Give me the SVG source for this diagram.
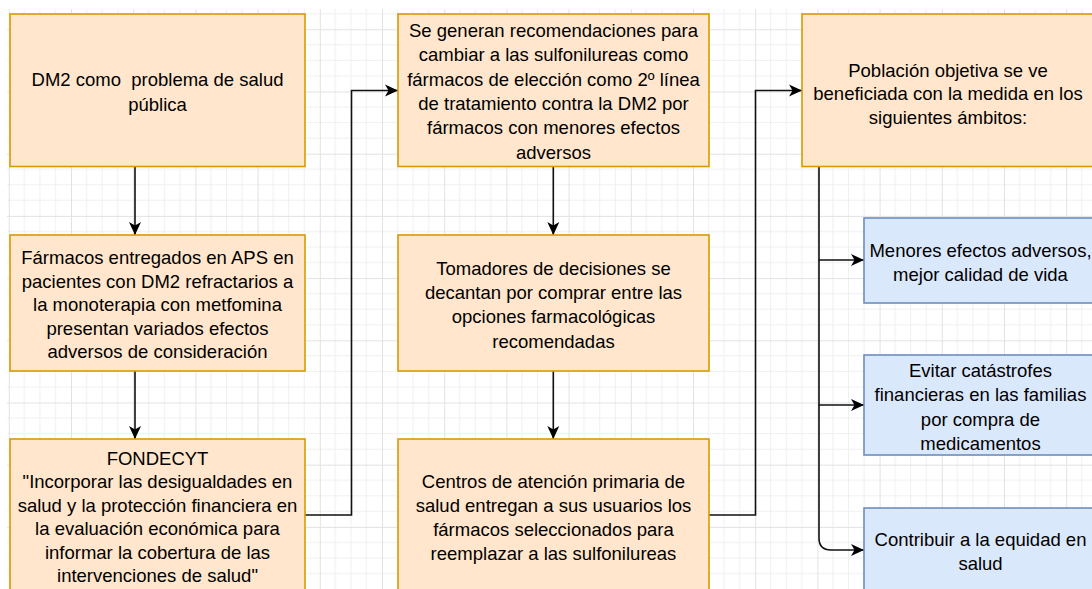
<svg xmlns="http://www.w3.org/2000/svg" width="1092" height="589" viewBox="0 0 1092 589">
<defs>
<pattern id="grid" patternUnits="userSpaceOnUse" x="8.8" y="29.3" width="62.2" height="62.2">
<path d="M15.55,0V62.2M31.1,0V62.2M46.65,0V62.2M0,15.55H62.2M0,31.1H62.2M0,46.65H62.2" stroke="#f0f0f0" stroke-width="1" fill="none"/>
<path d="M0.5,0V62.2M0,0.5H62.2" stroke="#e2e2e2" stroke-width="1" fill="none"/>
</pattern>
<marker id="arr" markerUnits="userSpaceOnUse" viewBox="0 0 13 13" refX="13" refY="6.5" markerWidth="13" markerHeight="13" orient="auto">
<path d="M0,0.5 L13,6.5 L0,12.5 L3.5,6.5 Z" fill="#000"/>
</marker>
<style>
.o{fill:#ffe6cc;stroke:#d79b00;stroke-width:1.6}
.b{fill:#dae8fc;stroke:#6c8ebf;stroke-width:1.6}
.t{font-family:"Liberation Sans",Arial,Helvetica,sans-serif;font-size:18.5px;fill:#000;text-anchor:middle}
.e{fill:none;stroke:#111;stroke-width:1.6;marker-end:url(#arr)}
</style>
</defs>
<rect x="0" y="0" width="1092" height="589" fill="#fff"/>
<rect x="7" y="9" width="1085" height="580" fill="url(#grid)"/>

<g id="connectors">
<path class="e" d="M135,166.5V235"/>
<path class="e" d="M135,371V439"/>
<path class="e" d="M305,515H351.5V90.5H398"/>
<path class="e" d="M553.3,166.5V235"/>
<path class="e" d="M553.3,371V439"/>
<path class="e" d="M709,515H755.5V90.5H802"/>
<path class="e" d="M819,166.5V260H864"/>
<path class="e" d="M819,260V405H864"/>
<path class="e" d="M819,405V538Q819,550 831,550H864"/>
</g>

<g id="n1">
<rect class="o" x="10" y="14" width="295" height="152.5"/>
<text class="t" xml:space="preserve"><tspan x="157.5" y="86">DM2 como  problema de salud</tspan><tspan x="157.5" y="111">pública</tspan></text>
</g>
<g id="n2">
<rect class="o" x="10" y="235" width="295" height="136"/>
<text class="t"><tspan x="157.5" y="264">Fármacos entregados en APS en</tspan><tspan x="157.5" y="287.5">pacientes con DM2 refractarios a</tspan><tspan x="157.5" y="311">la monoterapia con metfomina</tspan><tspan x="157.5" y="334.5">presentan variados efectos</tspan><tspan x="157.5" y="358">adversos de consideración</tspan></text>
</g>
<g id="n3">
<rect class="o" x="10" y="439" width="295" height="160"/>
<text class="t"><tspan x="157.5" y="464.5">FONDECYT</tspan><tspan x="157.5" y="488">"Incorporar las desigualdades en</tspan><tspan x="157.5" y="511.5">salud y la protección financiera en</tspan><tspan x="157.5" y="535">la evaluación económica para</tspan><tspan x="157.5" y="558.5">informar la cobertura de las</tspan><tspan x="157.5" y="582">intervenciones de salud"</tspan></text>
</g>
<g id="n4">
<rect class="o" x="398" y="14" width="311" height="152.5"/>
<text class="t"><tspan x="553.5" y="37">Se generan recomendaciones para</tspan><tspan x="553.5" y="61.3">cambiar a las sulfonilureas como</tspan><tspan x="553.5" y="85.6">fármacos de elección como 2º línea</tspan><tspan x="553.5" y="110">de tratamiento contra la DM2 por</tspan><tspan x="553.5" y="134.3">fármacos con menores efectos</tspan><tspan x="553.5" y="158.6">adversos</tspan></text>
</g>
<g id="n5">
<rect class="o" x="398" y="235" width="311" height="136"/>
<text class="t"><tspan x="553.5" y="274.5">Tomadores de decisiones se</tspan><tspan x="553.5" y="298.9">decantan por comprar entre las</tspan><tspan x="553.5" y="323.3">opciones farmacológicas</tspan><tspan x="553.5" y="347.7">recomendadas</tspan></text>
</g>
<g id="n6">
<rect class="o" x="398" y="439" width="311" height="160"/>
<text class="t"><tspan x="553.5" y="488">Centros de atención primaria de</tspan><tspan x="553.5" y="512">salud entregan a sus usuarios los</tspan><tspan x="553.5" y="536">fármacos seleccionados para</tspan><tspan x="553.5" y="560">reemplazar a las sulfonilureas</tspan></text>
</g>
<g id="n7">
<rect class="o" x="802" y="14" width="293" height="152.5"/>
<text class="t"><tspan x="948" y="76.5">Población objetiva se ve</tspan><tspan x="948" y="100">beneficiada con la medida en los</tspan><tspan x="948" y="123.5">siguientes ámbitos:</tspan></text>
</g>
<g id="n8">
<rect class="b" x="864" y="218" width="233" height="85"/>
<text class="t"><tspan x="980.5" y="256.5">Menores efectos adversos,</tspan><tspan x="980.5" y="281">mejor calidad de vida</tspan></text>
</g>
<g id="n9">
<rect class="b" x="864" y="355" width="233" height="100"/>
<text class="t"><tspan x="980.5" y="376.5">Evitar catástrofes</tspan><tspan x="980.5" y="401">financieras en las familias</tspan><tspan x="980.5" y="425.5">por compra de</tspan><tspan x="980.5" y="450">medicamentos</tspan></text>
</g>
<g id="n10">
<rect class="b" x="864" y="508" width="233" height="100"/>
<text class="t"><tspan x="980.5" y="546">Contribuir a la equidad en</tspan><tspan x="980.5" y="570">salud</tspan></text>
</g>
</svg>
